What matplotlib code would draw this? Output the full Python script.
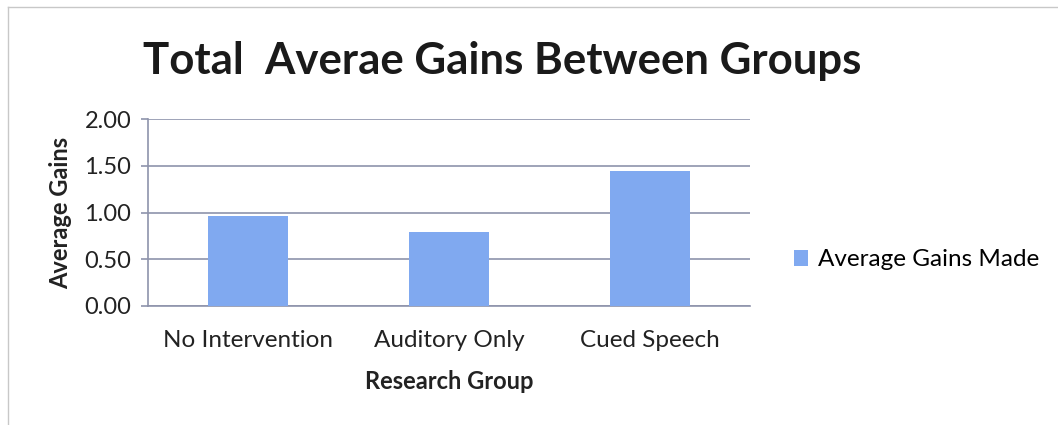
import matplotlib
matplotlib.use("Agg")
import matplotlib.pyplot as plt
from matplotlib.lines import Line2D
from matplotlib.patches import Patch

categories = ["No Intervention", "Auditory Only", "Cued Speech"]
values = [0.96, 0.79, 1.44]
yticks = [0.0, 0.5, 1.0, 1.5, 2.0]
series_name = "Average Gains Made"
title = "Total  Averae Gains Between Groups"

plt.rcParams['font.family'] = ['Lato', 'DejaVu Sans']

W, H = 1058, 425
fig = plt.figure(figsize=(W / 100, H / 100), dpi=100)
ax = fig.add_axes([148 / W, 1 - 306 / H, (750 - 148) / W, (306 - 119) / H])

grid_c = "#8e93ab"
bar_c = "#80a9f0"
text_c = "#222222"
x = list(range(len(categories)))
ax.bar(x, values, width=0.4, color=bar_c, zorder=3)
ax.set_xlim(-0.5, 2.5)
ax.set_ylim(0, 2.0)
ax.set_yticks(yticks)
ax.set_yticklabels([f"{v:.2f}" for v in yticks], fontsize=17, color=text_c)
ax.set_xticks(x)
ax.set_xticklabels(categories, fontsize=17.5, color=text_c)
ax.yaxis.grid(True, color=grid_c, linewidth=1.2, zorder=0)
for s in ["top", "right"]:
    ax.spines[s].set_visible(False)
ax.spines["left"].set_color(grid_c)
ax.spines["bottom"].set_color(grid_c)
ax.spines["left"].set_linewidth(1.2)
ax.spines["bottom"].set_linewidth(1.2)
ax.tick_params(axis="y", length=5, color=grid_c, width=1.2, pad=7)
ax.tick_params(axis="x", length=0, pad=17)
ax.set_ylabel("Average Gains", fontsize=17, fontweight="bold", labelpad=9, color=text_c)
ax.set_xlabel("Research Group", fontsize=17, fontweight="bold", labelpad=14, color=text_c)

fig.text(502 / W, 1 - 61 / H, title, fontsize=31.5, fontweight="bold",
         ha="center", va="center", color="#1a1a1a")

handles = [Patch(facecolor=bar_c, edgecolor="none")]
fig.legend(handles, [series_name], loc="center left",
           bbox_to_anchor=(772 / W, 1 - 260 / H), frameon=False,
           fontsize=17.5, handlelength=0.6, handleheight=0.6, handletextpad=0.4)

# outer chart frame
fig.add_artist(Line2D([8 / W, 8 / W], [0, 1 - 7 / H], transform=fig.transFigure,
                      color="#c8c8c8", linewidth=1))
fig.add_artist(Line2D([8 / W, 1], [1 - 7 / H, 1 - 7 / H], transform=fig.transFigure,
                      color="#c8c8c8", linewidth=1))

fig.savefig("out.png", dpi=100)
